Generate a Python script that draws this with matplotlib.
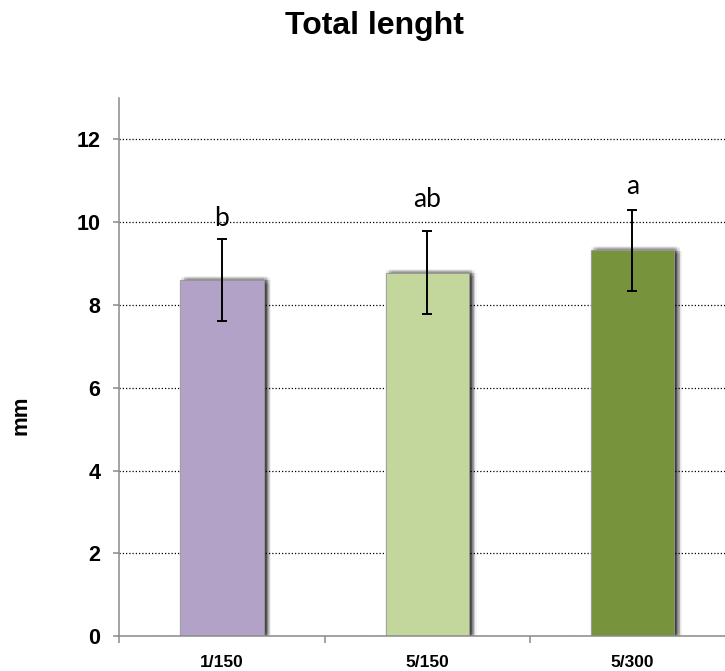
import numpy as np
import matplotlib
matplotlib.use("Agg")
import matplotlib.pyplot as plt
import matplotlib.patheffects as pe

# Data
groups = ["1/150", "5/150", "5/300"]
means = [8.60, 8.77, 9.32]
errors = [0.98, 1.00, 0.98]
letters = ["b", "ab", "a"]
letter_y = [9.90, 10.36, 10.67]
colors = ["#B3A2C7", "#C3D69B", "#77933C"]
yticks = [0, 2, 4, 6, 8, 10, 12]

plt.rcParams["font.family"] = ["Liberation Sans", "DejaVu Sans"]

fig = plt.figure(figsize=(7.25, 6.71), dpi=100)
ax = fig.add_axes([0.1646, 0.0517, 1.0138 - 0.1646, 0.8545 - 0.0517])

x = np.arange(len(groups))

# soft drop shadow built from many faint offset copies
shadow = []
for r in (0.8, 1.6, 2.4, 3.2):
    for th in np.linspace(0, 2 * np.pi, 8, endpoint=False):
        shadow.append(pe.SimplePatchShadow(offset=(2.4 + r * np.cos(th), -0.3 + r * np.sin(th)),
                                           shadow_rgbFace="black", alpha=0.05))
shadow.append(pe.Normal())

bars = ax.bar(x, means, width=0.405, color=colors, edgecolor="#9a9a9a",
              linewidth=0.6, zorder=2)
for b in bars:
    b.set_path_effects(shadow)

ax.errorbar(x, means, yerr=errors, fmt="none", ecolor="black", elinewidth=1.4,
            capsize=3.6, capthick=1.4, zorder=4)

for xi, lab, ly in zip(x, letters, letter_y):
    ax.text(xi, ly, lab, ha="center", va="baseline", fontsize=19,
            family=["Lato", "DejaVu Sans"], color="black", zorder=5)

ax.set_xlim(-0.5, len(groups) - 0.5)
ax.set_ylim(0, 13)

ax.set_yticks(yticks)
ax.set_yticklabels([str(t) for t in yticks], fontsize=15.5, fontweight="bold")
ax.yaxis.grid(True, color="black", linestyle=(0, (1, 1.6)), linewidth=0.9, zorder=0)
ax.set_axisbelow(True)

ax.set_xticks(x)
ax.set_xticklabels(groups, fontsize=12.5, fontweight="bold")
ax.set_xticks(np.arange(-0.5, len(groups), 1.0), minor=True)
ax.tick_params(axis="x", which="major", length=0, pad=13.5)
ax.tick_params(axis="x", which="minor", length=5, width=1.1, color="#8a8a8a")
ax.tick_params(axis="y", length=4.5, width=1.1, color="#8a8a8a", pad=9)

for s in ("top", "right"):
    ax.spines[s].set_visible(False)
for s in ("left", "bottom"):
    ax.spines[s].set_color("#8a8a8a")
    ax.spines[s].set_linewidth(1.1)

fig.text(21 / 725, 1 - 415 / 671, "mm", rotation=90, ha="center", va="center",
         fontsize=16, fontweight="bold")
fig.text(374 / 725, 1 - 26 / 671, "Total lenght", ha="center", va="center",
         fontsize=23, fontweight="bold")

fig.savefig("out.png", dpi=100)
